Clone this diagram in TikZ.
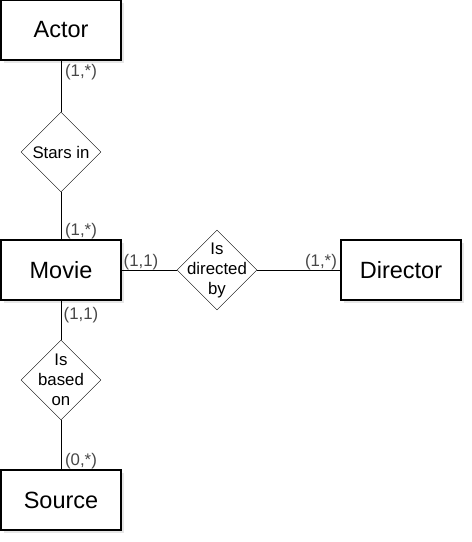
\documentclass[tikz,border=0pt]{standalone}
\usepackage{fontspec}
\setmainfont{Liberation Sans}
\usetikzlibrary{shapes.geometric,shadows}
\begin{document}
\begin{tikzpicture}[x=1pt,y=-1pt,
        entity/.style={draw, line width=1.2pt, fill=white, minimum width=120pt, minimum height=60pt,
            font=\fontsize{23.5}{28}\selectfont,
            drop shadow={opacity=0.2, shadow xshift=2.5pt, shadow yshift=-2.5pt}},
        relation/.style={draw, diamond, fill=white, minimum width=80pt, minimum height=80pt, inner sep=0pt},
        rtext/.style={align=center, font=\fontsize{16.8}{20}\selectfont},
        card/.style={text=black!72, font=\fontsize{16.8}{20}\selectfont, inner sep=0pt}]
    \useasboundingbox (0,0) rectangle (472,542);
    % entities
    \node[entity] (actor) at (61,30) {Actor};
    \node[entity] (movie) at (61,270) {Movie};
    \node[entity] (director) at (401,270) {Director};
    \node[entity] (source) at (61,500) {Source};
    % relationships
    \node[relation, label={[rtext]center:Stars in}] (starsin) at (61,152) {};
    \node[relation, label={[rtext]center:Is\\directed\\by}] (directedby) at (217,270) {};
    \node[relation, label={[rtext]center:Is\\based\\on}] (basedon) at (61,380) {};
    % connectors
    \draw[line width=1pt] (actor) -- (starsin);
    \draw[line width=1pt] (starsin) -- (movie);
    \draw[line width=1pt] (movie) -- (directedby);
    \draw[line width=1pt] (directedby) -- (director);
    \draw[line width=1pt] (movie) -- (basedon);
    \draw[line width=1pt] (basedon) -- (source);
    % cardinalities
    \node[card] (c1) at (81,72) {(1,*)};
    \node[card] (c2) at (81,231) {(1,*)};
    \node[card] (c3) at (141,262) {(1,1)};
    \node[card] (c4) at (321,262) {(1,*)};
    \node[card] (c5) at (81,315) {(1,1)};
    \node[card] (c6) at (81,461) {(0,*)};
\end{tikzpicture}
\end{document}
